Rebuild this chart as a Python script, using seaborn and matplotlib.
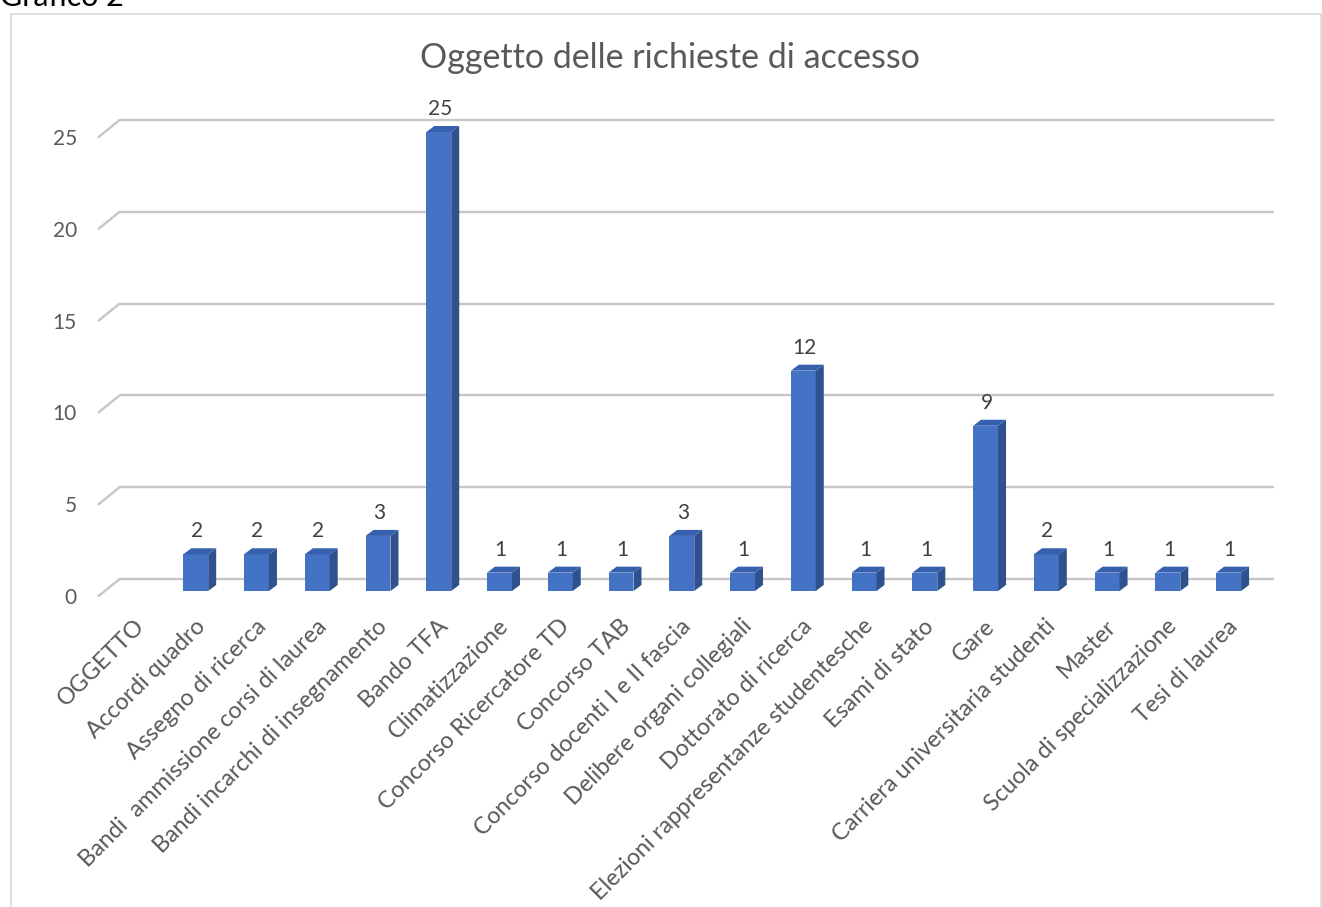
import numpy as np
import pandas as pd
import seaborn as sns
import matplotlib.pyplot as plt
from matplotlib.patches import Polygon, Rectangle
import matplotlib.transforms as mtrans

categories = ['OGGETTO', 'Accordi quadro', 'Assegno di ricerca',
              'Bandi  ammissione corsi di laurea', 'Bandi incarchi di insegnamento',
              'Bando TFA', 'Climatizzazione', 'Concorso Ricercatore TD',
              'Concorso TAB', 'Concorso docenti I e II fascia',
              'Delibere organi collegiali', 'Dottorato di ricerca',
              'Elezioni rappresentanze studentesche', 'Esami di stato', 'Gare',
              'Carriera universitaria studenti', 'Master',
              'Scuola di specializzazione', 'Tesi di laurea']
values = [np.nan, 2, 2, 2, 3, 25, 1, 1, 1, 3, 1, 12, 1, 1, 9, 2, 1, 1, 1]
y_ticks = [0, 5, 10, 15, 20, 25]

sns.set_theme(style='white')
plt.rcParams['font.family'] = ['Lato', 'DejaVu Sans']

W, H, dpi = 1322, 907, 100
fig = plt.figure(figsize=(W / dpi, H / dpi), dpi=dpi)
ax = fig.add_axes([104.6 / W, (H - 591) / H, 1154.4 / W, 459 / H])

df = pd.DataFrame({'oggetto': categories, 'n': values})
sns.barplot(data=df, x='oggetto', y='n', order=categories, color='#4472C4',
            saturation=1, width=0.41, linewidth=0, ax=ax, zorder=3)
ax.set_xlim(-0.5, len(categories) - 0.5)
ax.set_ylim(0, 25)
for s in ax.spines.values():
    s.set_visible(False)
ax.set_xlabel('')
ax.set_ylabel('')

# pixels -> data units
p0 = ax.transData.transform((0, 0))
p1 = ax.transData.transform((1, 1))
sx, sy = p1[0] - p0[0], p1[1] - p0[1]

# back wall grid with the little floor slant on the left
grid_col = '#c6c6c6'
for t in y_ticks:
    ax.plot([-0.5 + 15 / sx, len(categories) - 0.5 + 15 / sx],
            [t + 12 / sy, t + 12 / sy], color=grid_col, lw=1.7,
            zorder=1, clip_on=False, solid_capstyle='butt')
    ax.plot([-0.5 - 6 / sx, -0.5 + 15 / sx], [t - 5 / sy, t + 12 / sy],
            color=grid_col, lw=1.7, zorder=1, clip_on=False)

# 3d look for the bars
dx, dy = 8 / sx, 6 / sy
for p in ax.patches:
    h = p.get_height()
    if not np.isfinite(h) or h == 0:
        continue
    x0, w = p.get_x(), p.get_width()
    side = [(x0 + w, 0), (x0 + w + dx, dy), (x0 + w + dx, h + dy), (x0 + w, h)]
    top = [(x0, h), (x0 + dx, h + dy), (x0 + w + dx, h + dy), (x0 + w, h)]
    ax.add_patch(Polygon(side, closed=True, fc='#2F528F', ec='none', zorder=3, clip_on=False))
    ax.add_patch(Polygon(top, closed=True, fc='#3660AE', ec='none', zorder=3, clip_on=False))
    ax.annotate(f'{h:g}', (x0 + w / 2 + 1 / sx, h + dy), xytext=(0, 5),
                textcoords='offset points', ha='center', va='bottom',
                fontsize=15, color='#404040', annotation_clip=False)

ax.set_yticks(y_ticks)
ax.set_yticklabels([str(t) for t in y_ticks])
ax.tick_params(axis='y', length=0, pad=20, labelsize=15, labelcolor='#595959')
ax.set_xticks(range(len(categories)))
ax.set_xticklabels(categories, rotation=45, ha='right', va='center',
                   rotation_mode='anchor')
ax.tick_params(axis='x', length=0, pad=23, labelsize=16.8, labelcolor='#595959')
shift_y = mtrans.ScaledTranslation(0, -5 / dpi, fig.dpi_scale_trans)
for lab in ax.get_yticklabels():
    lab.set_transform(lab.get_transform() + shift_y)
shift_x = mtrans.ScaledTranslation(6 / dpi, 0, fig.dpi_scale_trans)
for lab in ax.get_xticklabels():
    lab.set_transform(lab.get_transform() + shift_x)

fig.text(670 / W, 1 - 68 / H, 'Oggetto delle richieste di accesso',
         ha='center', va='baseline', fontsize=24.5, color='#595959')
fig.text(0, 1 - 6 / H, 'Grafico 2', ha='left', va='baseline', fontsize=22, color='black')
fig.add_artist(Rectangle((11 / W, -0.01), (1321 - 11) / W, (H - 14) / H + 0.01,
                         transform=fig.transFigure, fill=False,
                         edgecolor='#d9d9d9', lw=1.2))

fig.savefig('out.png', dpi=dpi)
